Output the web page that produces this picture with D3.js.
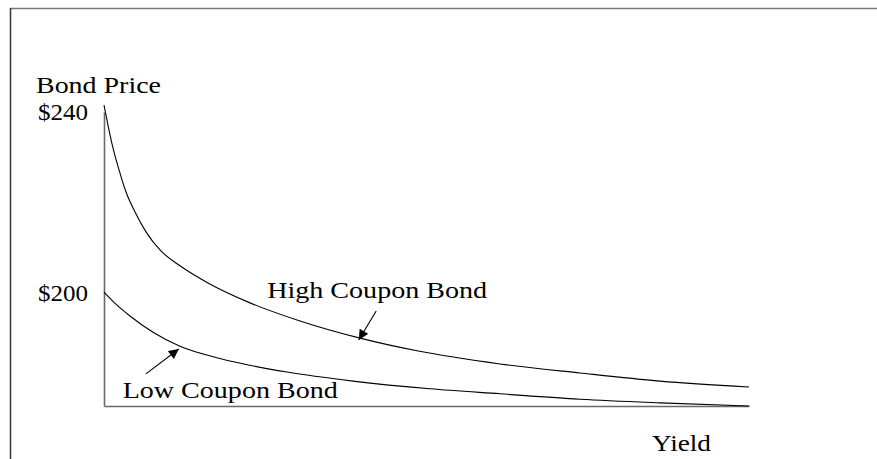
<!DOCTYPE html>
<html><head><meta charset="utf-8">
<script src="https://cdn.jsdelivr.net/npm/d3@7"></script>
<style>
html,body{margin:0;padding:0;background:#fff;}
svg{display:block;font-family:"Liberation Serif","Times New Roman",serif;}
</style></head>
<body>
<svg id="chart" width="877" height="459"></svg>
<script>
// Data (yield in arbitrary units, price in $)
const highYield = [0, 0.062, 0.14, 0.233, 0.341, 0.481, 0.651, 0.868, 1.178, 1.612, 2.264, 3.039, 3.969, 4.853, 6.14, 7.38, 8.62, 10];
const highPrice = [241.5, 237.1, 232.0, 227.2, 222.3, 217.9, 213.5, 209.5, 206.0, 202.2, 197.8, 193.8, 190.0, 187.2, 184.3, 182.3, 180.5, 179.2];
const lowYield  = [0, 0.202, 0.403, 0.76, 1.178, 1.798, 2.837, 3.86, 5.054, 6.14, 7.38, 8.62, 10];
const lowPrice  = [200.2, 197.3, 194.9, 191.3, 188.2, 185.5, 182.5, 180.5, 178.8, 177.7, 176.5, 175.7, 175.0];
const tickValues = [240, 200];
const tickLabels = ["$240", "$200"];
const seriesNames = ["High Coupon Bond", "Low Coupon Bond"];
const yTitle = "Bond Price";
const xTitle = "Yield";

const svg = d3.select("#chart");
const x = d3.scaleLinear().domain([0, 10]).range([104, 749]);
const y = d3.scaleLinear().domain([175, 240]).range([406, 112]);

// frame
svg.append("line").attr("x1", 10).attr("x2", 877).attr("y1", 8.5).attr("y2", 8.5)
  .attr("stroke", "#7a7a7a").attr("stroke-width", 1.5);
svg.append("line").attr("x1", 10.5).attr("x2", 10.5).attr("y1", 8).attr("y2", 459)
  .attr("stroke", "#333").attr("stroke-width", 1.5);

// axes
const yAxis = d3.axisLeft(y).tickValues(tickValues).tickSize(0).tickPadding(16)
  .tickFormat((d, i) => tickLabels[i]);
const gy = svg.append("g").attr("transform", `translate(${x(0)},0)`).call(yAxis);
gy.select(".domain").attr("stroke", "#6a6a6a").attr("stroke-width", 1.6);
gy.selectAll("text").attr("font-size", 23).attr("font-family", "Liberation Serif")
  .attr("fill", "#000").attr("dy", "0.34em")
  .attr("textLength", 50).attr("lengthAdjust", "spacingAndGlyphs");

const xAxis = d3.axisBottom(x).tickValues([]).tickSizeOuter(0);
const gx = svg.append("g").attr("transform", `translate(0,${y(175)})`).call(xAxis);
gx.select(".domain").attr("stroke", "#6a6a6a").attr("stroke-width", 1.6);

// curves
const line = d3.line().x(d => x(d[0])).y(d => y(d[1])).curve(d3.curveMonotoneX);
const high = highYield.map((v, i) => [v, highPrice[i]]);
const low = lowYield.map((v, i) => [v, lowPrice[i]]);
svg.append("path").datum(high).attr("d", line).attr("fill", "none").attr("stroke", "#000").attr("stroke-width", 1.1);
svg.append("path").datum(low).attr("d", line).attr("fill", "none").attr("stroke", "#000").attr("stroke-width", 1.1);

// arrow marker
svg.append("defs").append("marker").attr("id", "ah").attr("viewBox", "0 0 10 10")
  .attr("refX", 10).attr("refY", 5).attr("markerWidth", 12).attr("markerHeight", 10)
  .attr("markerUnits", "userSpaceOnUse").attr("orient", "auto")
  .append("path").attr("d", "M0,0 L10,5 L0,10 Z").attr("fill", "#000");

const arrows = [
  {from: [4.22, 196.0], to: [3.95, 189.6]},
  {from: [0.65, 182.1], to: [1.16, 187.6]}
];
arrows.forEach(a => {
  svg.append("line").attr("x1", x(a.from[0])).attr("y1", y(a.from[1]))
    .attr("x2", x(a.to[0])).attr("y2", y(a.to[1]))
    .attr("stroke", "#000").attr("stroke-width", 1.1).attr("marker-end", "url(#ah)");
});

// labels
const txt = (s, px, py, len) => svg.append("text").attr("x", px).attr("y", py)
  .attr("font-size", 23).attr("fill", "#000")
  .attr("textLength", len).attr("lengthAdjust", "spacingAndGlyphs").text(s);
txt(seriesNames[0], x(2.53), y(198.9), 220);
txt(seriesNames[1], x(0.29), y(176.8), 215);
txt(yTitle, 36, 93, 125);
txt(xTitle, 652, 451, 59);
</script>
</body></html>
